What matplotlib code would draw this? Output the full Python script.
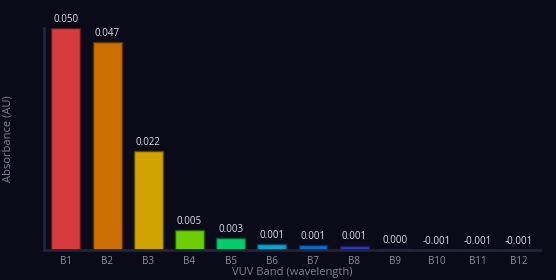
import matplotlib.pyplot as plt
import numpy as np

plt.rcParams["font.family"] = ["Open Sans", "DejaVu Sans"]

bands = ["B1", "B2", "B3", "B4", "B5", "B6", "B7", "B8", "B9", "B10", "B11", "B12"]
absorbance = [0.0500, 0.0468, 0.0223, 0.0046, 0.0027, 0.0013, 0.0012, 0.0010, 0.0002, -0.0006, -0.0007, -0.0006]
labels = ["0.050", "0.047", "0.022", "0.005", "0.003", "0.001", "0.001", "0.001", "0.000", "-0.001", "-0.001", "-0.001"]
colors = ["#d63b40", "#cc6e02", "#d0a202", "#6ccf04", "#02cc6c", "#02a4d0", "#0270d2", "#3434cc", "#6a28c8",
          "#a028c0", "#c028a0", "#c8287a"]
edges = ["#5a1a1c", "#5a3004", "#5a4604", "#2c5a04", "#045a30", "#04465a", "#04305a", "#1a1a5a", "#2e1458",
         "#461452", "#521446", "#521436"]

bg = "#0a0a18"
fig, ax = plt.subplots(figsize=(5.56, 2.80), dpi=100)
fig.patch.set_facecolor(bg)
ax.set_facecolor(bg)
fig.subplots_adjust(left=0.08, right=0.972, top=0.9, bottom=0.107)

x = np.arange(len(bands))
ax.bar(x, absorbance, width=0.7, color=colors, edgecolor=edges, linewidth=1)

# value labels above bars (negatives sit on the zero line)
for xi, v, lab in zip(x, absorbance, labels):
    ax.text(xi, max(v, 0) + 0.0007, lab, ha="center", va="bottom", fontsize=7,
            color="#dde2ee", clip_on=False)

ax.set_xlim(-0.52, 11.52)
ax.set_ylim(0, 0.050)
ax.set_xticks(x)
ax.set_xticklabels(bands, fontsize=7, color="#8d92a3")
ax.set_yticks([])
ax.tick_params(axis="x", length=0, pad=4)

for side in ["top", "right"]:
    ax.spines[side].set_visible(False)
for side in ["left", "bottom"]:
    ax.spines[side].set_color("#1f263a")
    ax.spines[side].set_linewidth(2)

ax.set_xlabel("VUV Band (wavelength)", fontsize=8, color="#7d8294", labelpad=0)
ax.set_ylabel("Absorbance (AU)", fontsize=8, color="#7d8294", labelpad=22)

fig.savefig("out.png", facecolor=bg)
